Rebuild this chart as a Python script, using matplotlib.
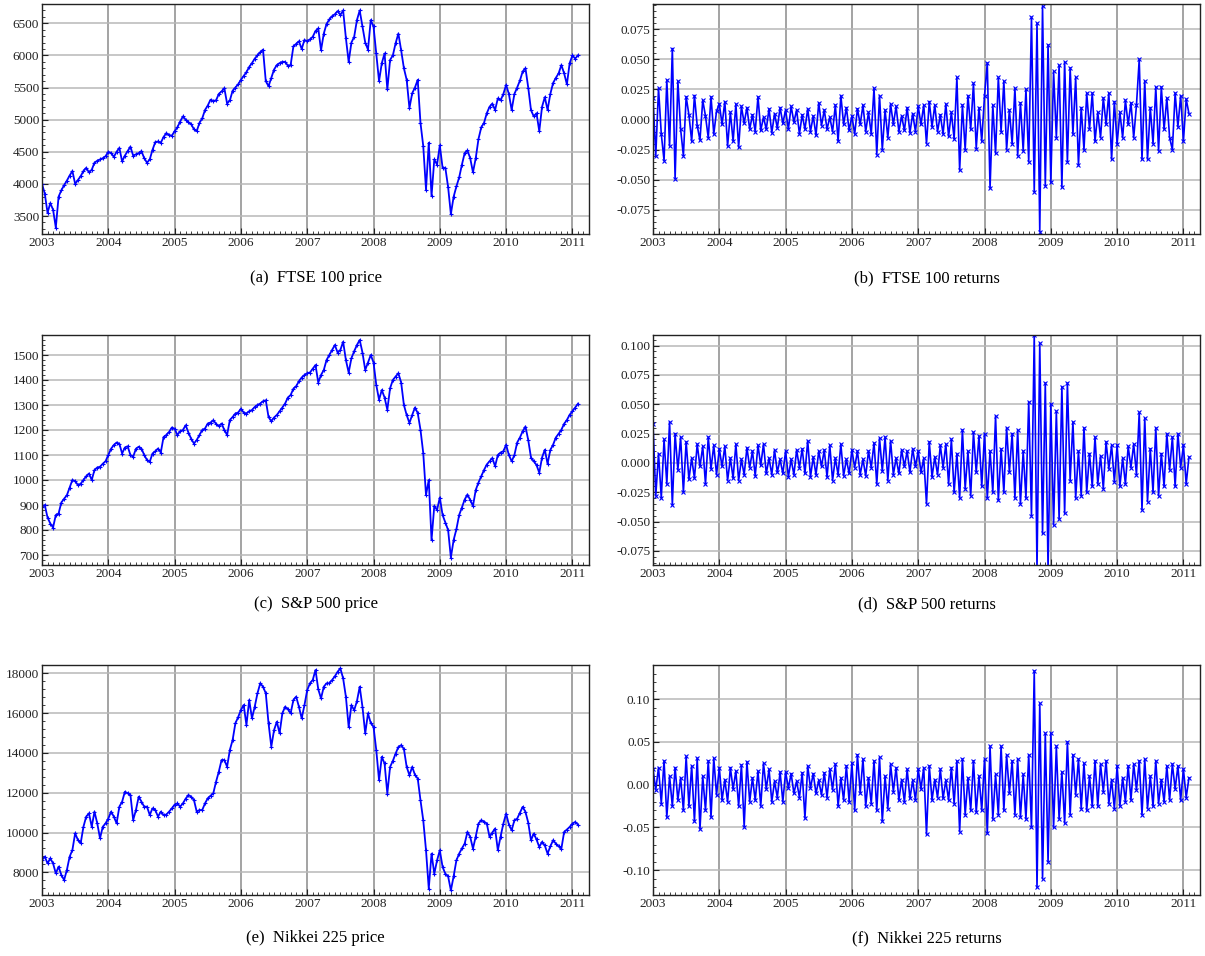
import numpy as np
import matplotlib
matplotlib.use("Agg")
import matplotlib.pyplot as plt
from matplotlib.ticker import MultipleLocator, AutoMinorLocator, FormatStrFormatter

plt.rcParams['font.family'] = ['Liberation Serif', 'DejaVu Serif']
plt.rcParams['axes.unicode_minus'] = False

# semi-monthly samples starting Jan 2003 (24 per year)
ftse_price = [
    4000, 3850, 3550, 3700, 3600, 3320, 3800, 3900, 3980, 4050, 4130, 4200, 4000, 4060, 4120, 4200, 4250, 4180, 4220, 4330, 4360, 4380, 4400, 4430,
    4500, 4480, 4420, 4500, 4560, 4350, 4440, 4510, 4580, 4440, 4460, 4480, 4510, 4400, 4330, 4380, 4530, 4650, 4660, 4640, 4730, 4790, 4760, 4750,
    4820, 4880, 4970, 5050, 5000, 4960, 4930, 4850, 4820, 4950, 5020, 5150, 5220, 5310, 5290, 5300, 5400, 5440, 5490, 5250, 5300, 5450, 5500, 5550,
    5620, 5680, 5740, 5820, 5880, 5950, 6000, 6050, 6090, 5600, 5520, 5650, 5780, 5850, 5880, 5900, 5900, 5840, 5850, 6140, 6180, 6220, 6100, 6240,
    6220, 6250, 6290, 6380, 6420, 6080, 6340, 6490, 6560, 6610, 6640, 6690, 6630, 6700, 6270, 5900, 6200, 6290, 6550, 6700, 6450, 6200, 6090, 6550,
    6450, 6030, 5600, 5880, 6030, 5470, 5930, 6000, 6190, 6340, 6080, 5800, 5620, 5180, 5410, 5500, 5620, 4950, 4590, 3910, 4640, 3810, 4380, 4300,
    4600, 4250, 4250, 3950, 3530, 3800, 3960, 4100, 4300, 4480, 4520, 4400, 4180, 4400, 4700, 4880, 4950, 5100, 5200, 5250, 5150, 5330, 5300, 5400,
    5540, 5400, 5150, 5400, 5500, 5610, 5750, 5800, 5500, 5150, 5050, 5100, 4820, 5200, 5350, 5150, 5400, 5570, 5650, 5720, 5850, 5720, 5550, 5880,
    6000, 5950, 6000,
]
ftse_ret = [
    0.018, -0.030, 0.026, -0.012, -0.034, 0.033, -0.022, 0.059, -0.049, 0.032, -0.008, -0.030, 0.019, 0.004, -0.018, 0.020, -0.005, -0.017, 0.016, 0.003, -0.015, 0.019, -0.012, 0.007,
    0.013, -0.004, 0.015, -0.022, 0.006, -0.018, 0.013, -0.023, 0.011, -0.003, 0.010, -0.008, 0.004, -0.010, 0.019, -0.009, 0.002, -0.008, 0.009, -0.011, 0.005, -0.007, 0.010, -0.003,
    0.008, -0.008, 0.011, -0.002, 0.008, -0.012, 0.004, -0.008, 0.009, -0.010, 0.003, -0.013, 0.014, -0.005, 0.008, -0.008, 0.002, -0.010, 0.012, -0.018, 0.020, -0.004, 0.010, -0.009,
    0.003, -0.012, 0.009, -0.004, 0.012, -0.010, 0.006, -0.012, 0.026, -0.029, 0.020, -0.025, 0.008, -0.015, 0.013, -0.004, 0.011, -0.010, 0.003, -0.009, 0.010, -0.011, 0.005, -0.010,
    0.011, -0.004, 0.012, -0.020, 0.015, -0.006, 0.012, -0.010, 0.004, -0.012, 0.013, -0.014, 0.006, -0.016, 0.035, -0.042, 0.012, -0.025, 0.020, -0.008, 0.030, -0.024, 0.010, -0.018,
    0.020, 0.047, -0.057, 0.012, -0.028, 0.035, -0.010, 0.032, -0.025, 0.008, -0.020, 0.026, -0.030, 0.014, -0.026, 0.025, -0.035, 0.085, -0.060, 0.080, -0.093, 0.094, -0.055, 0.062,
    -0.052, 0.040, -0.015, 0.045, -0.056, 0.048, -0.035, 0.043, -0.012, 0.035, -0.038, 0.010, -0.025, 0.022, -0.008, 0.022, -0.018, 0.006, -0.015, 0.018, -0.004, 0.022, -0.033, 0.015,
    -0.020, 0.006, -0.015, 0.016, -0.004, 0.014, -0.015, 0.012, 0.050, -0.033, 0.032, -0.033, 0.010, -0.020, 0.027, -0.026, 0.027, -0.008, 0.018, -0.015, -0.025, 0.022, -0.006, 0.020,
    -0.018, 0.017, 0.005,
]
sp_price = [
    893, 900, 850, 826, 810, 860, 866, 910, 925, 939, 970, 1000, 995, 980, 985, 1000, 1015, 1026, 1000, 1040, 1050, 1053, 1065, 1075,
    1100, 1125, 1140, 1150, 1145, 1106, 1130, 1135, 1100, 1093, 1125, 1133, 1126, 1100, 1080, 1073, 1106, 1115, 1126, 1110, 1172, 1180, 1192, 1210,
    1205, 1180, 1195, 1200, 1219, 1190, 1165, 1146, 1160, 1180, 1200, 1206, 1226, 1230, 1239, 1225, 1215, 1226, 1200, 1180, 1240, 1252, 1266, 1270,
    1285, 1270, 1266, 1275, 1280, 1292, 1300, 1306, 1315, 1319, 1252, 1235, 1250, 1260, 1275, 1290, 1306, 1330, 1340, 1365, 1375, 1395, 1410, 1420,
    1427, 1430, 1445, 1460, 1390, 1420, 1440, 1480, 1500, 1520, 1540, 1510, 1520, 1553, 1480, 1430, 1487, 1515, 1540, 1560, 1510, 1440, 1470, 1500,
    1470, 1380, 1321, 1360, 1330, 1281, 1367, 1400, 1414, 1427, 1390, 1300, 1260, 1228, 1260, 1290, 1268, 1201, 1108, 940, 1000, 760, 896, 880,
    930, 860, 830, 800, 690, 760, 803, 860, 890, 922, 942, 920, 896, 960, 990, 1015, 1040, 1062, 1075, 1088, 1055, 1100, 1110, 1115,
    1141, 1100, 1075, 1100, 1150, 1170, 1195, 1214, 1160, 1090, 1075, 1060, 1029, 1090, 1121, 1065, 1120, 1141, 1170, 1185, 1201, 1225, 1240, 1261,
    1275, 1290, 1305,
]
sp_ret = [
    0.033, -0.028, 0.008, -0.030, 0.020, -0.018, 0.035, -0.036, 0.025, -0.006, 0.022, -0.025, 0.018, -0.014, 0.004, -0.013, 0.016, -0.003, 0.014, -0.018, 0.022, -0.005, 0.015, -0.010,
    0.012, -0.003, 0.014, -0.015, 0.004, -0.013, 0.016, -0.015, 0.003, -0.010, 0.013, -0.004, 0.010, -0.011, 0.015, -0.002, 0.016, -0.009, 0.004, -0.010, 0.011, -0.008, 0.003, -0.009,
    0.010, -0.012, 0.003, -0.010, 0.011, -0.004, 0.012, -0.009, 0.019, -0.012, 0.005, -0.010, 0.010, -0.003, 0.011, -0.012, 0.015, -0.015, 0.004, -0.010, 0.016, -0.011, 0.003, -0.009,
    0.011, -0.004, 0.010, -0.010, 0.003, -0.011, 0.010, -0.004, 0.017, -0.018, 0.021, -0.007, 0.022, -0.015, 0.019, -0.010, 0.004, -0.009, 0.011, -0.003, 0.010, -0.008, 0.012, -0.003,
    0.010, -0.008, 0.004, -0.035, 0.018, -0.012, 0.005, -0.010, 0.015, -0.004, 0.016, -0.018, 0.020, -0.025, 0.008, -0.030, 0.028, -0.022, 0.010, -0.028, 0.026, -0.008, 0.023, -0.020,
    0.025, -0.030, 0.010, -0.025, 0.040, -0.032, 0.012, -0.025, 0.030, -0.008, 0.025, -0.030, 0.028, -0.035, 0.010, -0.030, 0.052, -0.045, 0.109, -0.090, 0.102, -0.060, 0.068, -0.090,
    0.050, -0.053, 0.044, -0.048, 0.065, -0.043, 0.068, -0.015, 0.035, -0.030, 0.010, -0.028, 0.030, -0.025, 0.008, -0.020, 0.022, -0.018, 0.006, -0.022, 0.018, -0.005, 0.015, -0.016,
    0.015, -0.020, 0.004, -0.018, 0.014, -0.004, 0.016, -0.010, 0.043, -0.040, 0.038, -0.033, 0.012, -0.025, 0.030, -0.028, 0.008, -0.020, 0.025, -0.006, 0.022, -0.020, 0.025, -0.004,
    0.015, -0.018, 0.005,
]
nikkei_price = [
    8620, 8790, 8450, 8700, 8450, 7950, 8285, 7865, 7615, 8115, 8785, 9120, 9960, 9625, 9460, 10290, 10800, 10965, 10290, 11050, 10460, 9710, 10290, 10460,
    10700, 11050, 10800, 10460, 11300, 11550, 12050, 11970, 11900, 10630, 11130, 11800, 11550, 11300, 11300, 10880, 11215, 11130, 10800, 11050, 10880, 10900, 11050, 11215,
    11400, 11465, 11300, 11465, 11700, 11885, 11800, 11635, 11050, 11130, 11130, 11465, 11720, 11850, 11970, 12555, 13060, 13645, 13645, 13310, 14150, 14650, 15490, 15800,
    16160, 16410, 15400, 16660, 15740, 16325, 17000, 17500, 17330, 17000, 15490, 14315, 15150, 15570, 14985, 15990, 16325, 16200, 15990, 16660, 16830, 16320, 15735, 16400,
    17160, 17500, 17665, 18170, 17200, 16740, 17330, 17500, 17500, 17665, 17850, 18080, 18250, 17750, 16825, 15315, 16400, 16150, 16600, 17330, 16320, 14980, 15990, 15500,
    15315, 14140, 12630, 13805, 13470, 11960, 13300, 13600, 13970, 14300, 14390, 14200, 13300, 12880, 13300, 12900, 12715, 11625, 10620, 9110, 7180, 8940, 7930, 8600,
    9110, 8270, 7930, 7800, 7090, 7800, 8600, 8940, 9200, 9445, 10030, 9780, 9190, 9800, 10450, 10620, 10550, 10450, 9780, 10000, 10200, 9110, 9800, 10450,
    10950, 10400, 10110, 10620, 10700, 11000, 11290, 11040, 10500, 9610, 9950, 9650, 9275, 9530, 9350, 8940, 9300, 9610, 9445, 9300, 9190, 10030, 10150, 10280,
    10450, 10530, 10400,
]
nikkei_ret = [
    0.018, -0.006, 0.020, -0.022, 0.028, -0.038, 0.010, -0.025, 0.020, -0.018, 0.008, -0.030, 0.033, -0.025, 0.022, -0.043, 0.031, -0.052, 0.010, -0.030, 0.028, -0.038, 0.031, -0.012,
    0.020, -0.018, 0.006, -0.020, 0.020, -0.005, 0.016, -0.025, 0.023, -0.049, 0.027, -0.020, 0.008, -0.018, 0.016, -0.025, 0.025, -0.005, 0.018, -0.020, 0.004, -0.015, 0.015, -0.020,
    0.015, -0.004, 0.013, -0.010, 0.004, -0.015, 0.014, -0.039, 0.022, -0.004, 0.013, -0.010, 0.005, -0.012, 0.014, -0.015, 0.018, -0.006, 0.024, -0.025, 0.008, -0.018, 0.022, -0.020,
    0.025, -0.030, 0.035, -0.010, 0.030, -0.025, 0.008, -0.022, 0.028, -0.030, 0.032, -0.043, 0.010, -0.028, 0.024, -0.008, 0.020, -0.018, 0.006, -0.020, 0.018, -0.016, 0.005, -0.018,
    0.018, -0.005, 0.020, -0.058, 0.022, -0.018, 0.006, -0.015, 0.018, -0.016, 0.005, -0.018, 0.020, -0.022, 0.028, -0.055, 0.030, -0.035, 0.008, -0.030, 0.028, -0.032, 0.010, -0.030,
    0.030, -0.057, 0.045, -0.040, 0.012, -0.035, 0.045, -0.030, 0.035, -0.010, 0.028, -0.035, 0.030, -0.038, 0.012, -0.040, 0.035, -0.050, 0.133, -0.120, 0.095, -0.110, 0.060, -0.090,
    0.060, -0.050, 0.045, -0.040, 0.015, -0.045, 0.050, -0.035, 0.035, -0.012, 0.030, -0.028, 0.025, -0.030, 0.010, -0.025, 0.028, -0.025, 0.024, -0.008, 0.028, -0.022, 0.006, -0.028,
    0.022, -0.025, 0.008, -0.020, 0.022, -0.018, 0.024, -0.006, 0.028, -0.035, 0.030, -0.028, 0.010, -0.025, 0.028, -0.022, 0.006, -0.020, 0.022, -0.018, 0.024, -0.005, 0.022, -0.018,
    0.018, -0.015, 0.008,
]

captions = ["(a)  FTSE 100 price", "(b)  FTSE 100 returns",
            "(c)  S&P 500 price", "(d)  S&P 500 returns",
            "(e)  Nikkei 225 price", "(f)  Nikkei 225 returns"]
series = [ftse_price, ftse_ret, sp_price, sp_ret, nikkei_price, nikkei_ret]
ylims = [(3220, 6800), (-0.095, 0.096), (660, 1580), (-0.087, 0.109),
         (6860, 18420), (-0.129, 0.140)]
ysteps = [500, 0.025, 100, 0.025, 2000, 0.05]
yfmts = ["%d", "%.3f", "%d", "%.3f", "%d", "%.2f"]
years = list(range(2003, 2012))

W, H = 1205, 956
fig = plt.figure(figsize=(W / 100, H / 100), dpi=100)

lefts = [42, 653]
tops = [4, 335, 665]
aw, ah = 547, 230
cap_y = [278, 604, 938]

for i, (vals, cap) in enumerate(zip(series, captions)):
    r, c = divmod(i, 2)
    ax = fig.add_axes([lefts[c] / W, 1 - (tops[r] + ah) / H, aw / W, ah / H])
    t = 2003 + np.arange(len(vals)) / 24.0
    if c == 0:
        ax.plot(t, vals, color='#0000ff', lw=1.3, marker='+', ms=2.5, mew=0.8)
    else:
        ax.plot(t, vals, color='#0000ff', lw=1.2, marker='x', ms=2.5, mew=0.8)
    ax.set_xlim(2003.0, 2011.25)
    ax.set_ylim(*ylims[i])
    ax.set_xticks(years)
    ax.xaxis.set_minor_locator(AutoMinorLocator(12))
    ax.yaxis.set_major_locator(MultipleLocator(ysteps[i]))
    ax.yaxis.set_minor_locator(AutoMinorLocator(5))
    ax.yaxis.set_major_formatter(FormatStrFormatter(yfmts[i]))
    ax.grid(True, axis='x', color='#8a8a8a', lw=1.1)
    ax.grid(True, axis='y', color='#b8b8b8', lw=1.1)
    ax.set_axisbelow(True)
    ax.tick_params(which='both', direction='in', top=False, right=False,
                   labelsize=9.5, colors='#222222', pad=2)
    ax.tick_params(which='major', length=4)
    ax.tick_params(which='minor', length=2)
    for s in ax.spines.values():
        s.set_color('#222222')
        s.set_linewidth(1.0)
    fig.text((lefts[c] + aw / 2) / W, 1 - cap_y[r] / H, cap,
             ha='center', va='center', fontsize=12)

fig.savefig("out.png", dpi=100)
